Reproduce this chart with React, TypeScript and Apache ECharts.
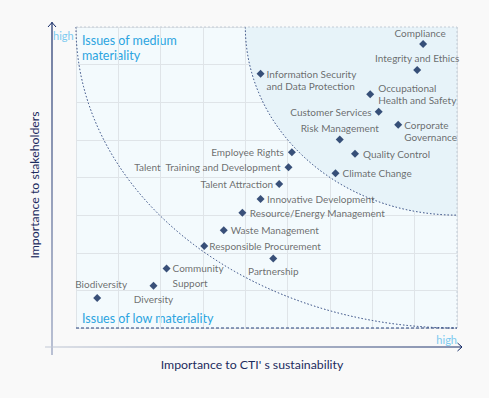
import React, { useEffect, useRef } from 'react';
import * as echarts from 'echarts';

// Issues (label text) and their positions in the materiality matrix
const issueNames = [
  'Compliance',
  'Integrity and Ethics',
  'Information Security\nand Data Protection',
  'Occupational\nHealth and Safety',
  'Customer Services',
  'Corporate\nGovernance',
  'Risk Management',
  'Quality Control',
  'Climate Change',
  'Employee Rights',
  'Talent  Training and Development',
  'Talent Attraction',
  'Innovative Development',
  'Resource/Energy Management',
  'Waste Management',
  'Responsible Procurement',
  'Partnership',
  'Community\nSupport',
  'Diversity',
  'Biodiversity',
];
// Importance to CTI's sustainability (0..9)
const sustainabilityValues = [8.2, 8.06, 4.36, 6.95, 7.15, 7.61, 6.23, 6.59, 6.13, 5.1, 5.02, 4.8, 4.36, 3.93, 3.49, 3.03, 4.66, 2.14, 1.83, 0.5];
// Importance to stakeholders (0..8)
const stakeholderValues = [7.55, 6.86, 6.76, 6.21, 5.75, 5.4, 5.01, 4.63, 4.11, 4.67, 4.27, 3.83, 3.43, 3.06, 2.6, 2.18, 1.85, 1.58, 1.12, 0.8];

const X_MAX = 9;
const Y_MAX = 8;
// boundary ellipses centred on the top-right corner, radii in axis units
const innerRadius = [5, 5];
const outerRadius = [9, 8];

const regionTitles = ['Issues of medium\nmateriality', 'Issues of high\nmateriality', 'Issues of low materiality'];
const axisTitles = ['Importance to stakeholders', "Importance to CTI' s sustainability"];
const highLabel = 'high';

const labelPlacement: Record<string, any> = {
  'Compliance': { position: 'top', distance: 1, offset: [-3, 0] },
  'Integrity and Ethics': { position: 'top', distance: 2 },
  'Information Security\nand Data Protection': { position: 'right', distance: 2, offset: [0, 6] },
  'Occupational\nHealth and Safety': { position: 'right', distance: 4 },
  'Customer Services': { position: 'left', distance: 3 },
  'Corporate\nGovernance': { position: 'right', distance: 2, offset: [0, 6] },
  'Risk Management': { position: 'top', distance: 1.5 },
  'Quality Control': { position: 'right', distance: 4 },
  'Climate Change': { position: 'right', distance: 3 },
  'Employee Rights': { position: 'left', distance: 4 },
  'Talent  Training and Development': { position: 'left', distance: 4 },
  'Talent Attraction': { position: 'left', distance: 2 },
  'Innovative Development': { position: 'right', distance: 2.5 },
  'Resource/Energy Management': { position: 'right', distance: 3.5 },
  'Waste Management': { position: 'right', distance: 3 },
  'Responsible Procurement': { position: 'right', distance: 1 },
  'Partnership': { position: 'bottom', distance: 2.5 },
  'Community\nSupport': { position: 'right', distance: 2, offset: [0, 7], lineHeight: 14.5 },
  'Diversity': { position: 'bottom', distance: 3.5 },
  'Biodiversity': { position: 'top', distance: 3.5, offset: [4, 0] },
};

const FONT = 'Lato, "Noto Sans", sans-serif';
const NAVY = '#0a2558';
const TITLE_BLUE = '#2ba4e0';

export default function App() {
  const ref = useRef<HTMLDivElement>(null);
  useEffect(() => {
    if (!ref.current) return;
    document.body.style.margin = '0';
    const chart = echarts.init(ref.current, undefined, { renderer: 'svg' });

    const points = issueNames.map((n, i) => ({
      name: n,
      value: [sustainabilityValues[i], stakeholderValues[i]],
      label: { ...labelPlacement[n] },
    }));

    const renderFrame = (params: any, api: any) => {
      const tl = api.coord([0, Y_MAX]);
      const tr = api.coord([X_MAX, Y_MAX]);
      const br = api.coord([X_MAX, 0]);
      const bl = api.coord([0, 0]);
      const is = api.coord([X_MAX - innerRadius[0], Y_MAX]);
      const ie = api.coord([X_MAX, Y_MAX - innerRadius[1]]);
      const os = api.coord([X_MAX - outerRadius[0], Y_MAX]);
      const oe = api.coord([X_MAX, Y_MAX - outerRadius[1]]);
      const irx = tr[0] - is[0];
      const iry = ie[1] - tr[1];
      const orx = tr[0] - os[0];
      const ory = oe[1] - tr[1];
      const dash = { stroke: '#27407a', lineWidth: 1, lineDash: [1.5, 2], fill: null };
      return {
        type: 'group',
        children: [
          {
            type: 'path',
            shape: { pathData: `M ${tr[0]} ${tr[1]} L ${is[0]} ${is[1]} A ${irx} ${iry} 0 0 0 ${ie[0]} ${ie[1]} Z` },
            style: { fill: '#e7f3f9', stroke: null },
          },
          {
            type: 'path',
            shape: { pathData: `M ${is[0]} ${is[1]} A ${irx} ${iry} 0 0 0 ${ie[0]} ${ie[1]}` },
            style: dash,
          },
          {
            type: 'path',
            shape: { pathData: `M ${os[0]} ${os[1]} A ${orx} ${ory} 0 0 0 ${oe[0]} ${oe[1]}` },
            style: dash,
          },
          {
            type: 'line',
            shape: { x1: tl[0], y1: tl[1], x2: tr[0], y2: tr[1] },
            style: { stroke: '#c3ccd6', lineWidth: 1, lineDash: [2, 2] },
          },
          {
            type: 'line',
            shape: { x1: tr[0], y1: tr[1], x2: br[0], y2: br[1] },
            style: { stroke: '#c3ccd6', lineWidth: 1, lineDash: [2, 2] },
          },
          {
            type: 'line',
            shape: { x1: bl[0], y1: bl[1], x2: br[0], y2: br[1] },
            style: { stroke: '#27407a', lineWidth: 1, lineDash: [3, 2] },
          },
        ],
      };
    };

    chart.setOption({
      animation: false,
      backgroundColor: '#f9f9f9',
      grid: {
        left: 76, right: 32, top: 27, bottom: 70,
        show: true, backgroundColor: '#f3fafd', borderWidth: 0,
      },
      xAxis: {
        type: 'value', min: 0, max: X_MAX, interval: 1,
        axisLine: { show: false }, axisTick: { show: false }, axisLabel: { show: false },
        splitLine: { show: true, lineStyle: { color: '#dfe4e8', width: 1 } },
      },
      yAxis: {
        type: 'value', min: 0, max: Y_MAX, interval: 1,
        axisLine: { show: false }, axisTick: { show: false }, axisLabel: { show: false },
        splitLine: { show: true, lineStyle: { color: '#dfe4e8', width: 1 } },
      },
      series: [
        {
          type: 'custom',
          renderItem: renderFrame,
          data: [[0, 0]],
          clip: false,
          silent: true,
          z: 1,
        },
        {
          type: 'scatter',
          symbol: 'diamond',
          symbolSize: 8,
          itemStyle: { color: NAVY },
          z: 5,
          label: {
            show: true,
            formatter: '{b}',
            fontSize: 10,
            color: '#4a4a4a',
            fontFamily: FONT,
            lineHeight: 12,
          },
          data: points,
        },
      ],
      graphic: [
        // y axis
        {
          type: 'line', shape: { x1: 52, y1: 355, x2: 52, y2: 22 },
          style: {
            lineWidth: 1.2,
            stroke: { type: 'linear', global: true, x: 52, y: 355, x2: 52, y2: 22, colorStops: [{ offset: 0, color: '#8e9aba' }, { offset: 1, color: '#142a66' }] },
          },
        },
        { type: 'polyline', shape: { points: [[48, 27], [52, 22.5], [56, 27]] }, style: { stroke: '#142a66', lineWidth: 1, fill: null } },
        // x axis
        {
          type: 'line', shape: { x1: 45, y1: 347, x2: 462, y2: 347 },
          style: {
            lineWidth: 1.2,
            stroke: { type: 'linear', global: true, x: 45, y: 347, x2: 462, y2: 347, colorStops: [{ offset: 0, color: '#c2c9d6' }, { offset: 1, color: '#142a66' }] },
          },
        },
        { type: 'polyline', shape: { points: [[457.5, 343], [462, 347], [457.5, 351]] }, style: { stroke: '#142a66', lineWidth: 1, fill: null } },
        { type: 'text', x: 53, y: 35, style: { text: highLabel, fill: '#7ccaf0', fontSize: 11, fontFamily: FONT, verticalAlign: 'middle' } },
        { type: 'text', x: 457, y: 339, style: { text: highLabel, fill: '#7ccaf0', fontSize: 11, fontFamily: FONT, align: 'right', verticalAlign: 'middle' } },
        { type: 'text', x: 82, y: 33, style: { text: regionTitles[0], fill: TITLE_BLUE, fontSize: 12.5, fontFamily: FONT, lineHeight: 15 } },
        { type: 'text', x: 269, y: 33, style: { text: regionTitles[1], fill: TITLE_BLUE, fontSize: 12.5, fontFamily: FONT, lineHeight: 15 } },
        { type: 'text', x: 82, y: 318, style: { text: regionTitles[2], fill: TITLE_BLUE, fontSize: 12.5, fontFamily: FONT, verticalAlign: 'middle' } },
        {
          type: 'text', x: 34, y: 185, rotation: Math.PI / 2,
          style: { text: axisTitles[0], fill: '#1c2b5e', fontSize: 12.3, fontFamily: FONT, align: 'center', verticalAlign: 'middle' },
        },
        {
          type: 'text', x: 252, y: 364,
          style: { text: axisTitles[1], fill: '#1c2b5e', fontSize: 12.3, fontFamily: FONT, align: 'center', verticalAlign: 'middle' },
        },
      ],
    });
    return () => chart.dispose();
  }, []);
  return <div ref={ref} style={{ position: 'absolute', left: 0, top: 0, width: 489, height: 398 }} />;
}
